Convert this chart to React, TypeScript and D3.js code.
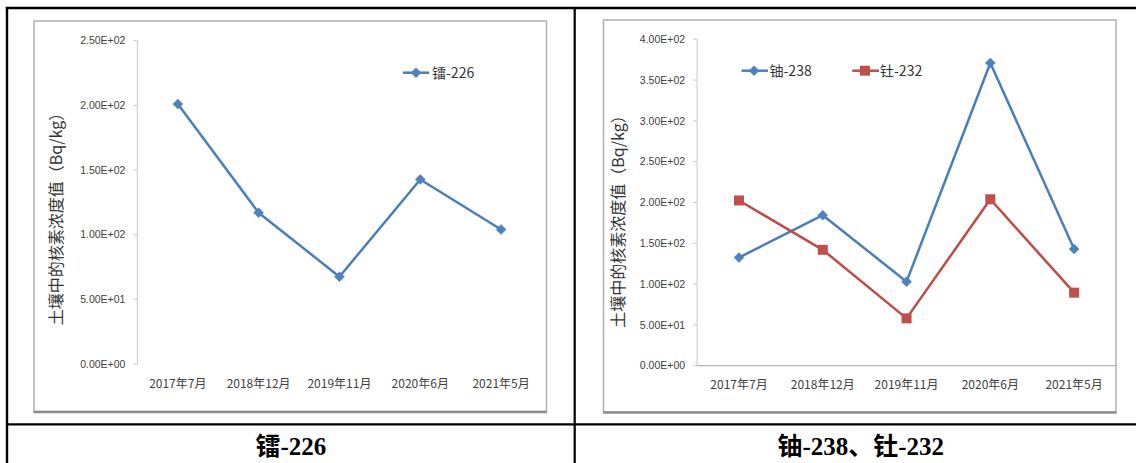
import React from "react";
import * as d3 from "d3";

const categories = ["2017年7月", "2018年12月", "2019年11月", "2020年6月", "2021年5月"];
const ra226 = [201, 117, 67.5, 142.7, 104];
const u238 = [132.5, 184.5, 103, 371, 143];
const th232 = [202.5, 142, 58, 204, 89.5];
const leftTicks = [0, 50, 100, 150, 200, 250];
const rightTicks = [0, 50, 100, 150, 200, 250, 300, 350, 400];
const yTitle = "土壤中的核素浓度值（Bq/kg）";
const leftCaption = "镭-226";
const rightCaption = "铀-238、钍-232";

const BLUE_LINE = "#4A7EBB";
const BLUE_MARK = "#4F81BD";
const RED_LINE = "#BE4B48";
const RED_MARK = "#C0504D";
const TICK_FONT = "'Liberation Sans', Arial, sans-serif";
const CJK_FONT = "'Noto Sans CJK SC', 'Liberation Sans', sans-serif";

function fmtExp(v: number): string {
  const [m, e] = v.toExponential(2).split("e");
  const sign = e[0];
  const digits = e.slice(1).padStart(2, "0");
  return `${m}E${sign}${digits}`;
}

function Diamond({ x, y, color, r = 5 }: { x: number; y: number; color: string; r?: number }) {
  return <path d={`M${x},${y - r}L${x + r},${y}L${x},${y + r}L${x - r},${y}Z`} fill={color} stroke={color} strokeWidth={0.5} />;
}
function Square({ x, y, color, s = 10 }: { x: number; y: number; color: string; s?: number }) {
  return <rect x={x - s / 2} y={y - s / 2} width={s} height={s} fill={color} />;
}

type Series = { name: string; values: number[]; line: string; mark: string; shape: "diamond" | "square" };

function Panel(props: {
  frame: [number, number, number, number];
  axisX: number;
  plotRight: number;
  yTop: number;
  yBottom: number;
  yMax: number;
  ticks: number[];
  series: Series[];
  showXAxis: boolean;
  titleX: number;
  titleY: number;
  catY: number;
  legend: { x0: number; x1: number; mx: number; tx: number; y: number }[];
}) {
  const { frame, axisX, plotRight, yTop, yBottom, yMax, ticks, series } = props;
  const x = d3.scaleBand<string>().domain(categories).range([axisX, plotRight]);
  const y = d3.scaleLinear().domain([0, yMax]).range([yBottom, yTop]);
  const line = d3
    .line<number>()
    .x((_, i) => (x(categories[i]) as number) + x.bandwidth() / 2)
    .y((d) => y(d));
  const [fx0, fy0, fx1, fy1] = frame;
  return (
    <g>
      <rect x={fx0} y={fy0} width={fx1 - fx0} height={fy1 - fy0} fill="#fff" stroke="#b0b0b0" strokeWidth={1.5} />
      <line x1={fx0 - 0.5} x2={fx1 + 0.5} y1={fy1 + 0.5} y2={fy1 + 0.5} stroke="#8c8c8c" strokeWidth={2.5} />
      {/* y axis */}
      <line x1={axisX} x2={axisX} y1={yTop} y2={yBottom} stroke="#c8c8c8" strokeWidth={1} />
      {ticks.map((t) => (
        <g key={t}>
          <line x1={axisX - 4} x2={axisX} y1={y(t)} y2={y(t)} stroke="#c8c8c8" strokeWidth={1} />
          <text
            x={axisX - 12}
            y={y(t)}
            dy="0.35em"
            textAnchor="end"
            fontFamily={TICK_FONT}
            fontSize={10.5}
            fill="#404040"
          >
            {fmtExp(t)}
          </text>
        </g>
      ))}
      {props.showXAxis && (
        <line x1={axisX} x2={plotRight} y1={yBottom} y2={yBottom} stroke="#b8b8b8" strokeWidth={1.2} />
      )}
      {categories.map((c) => (
        <text
          key={c}
          x={(x(c) as number) + x.bandwidth() / 2}
          y={props.catY}
          dy="0.35em"
          textAnchor="middle"
          fontFamily={CJK_FONT}
          fontSize={12}
          fill="#404040"
        >
          {c}
        </text>
      ))}
      <text
        transform={`translate(${props.titleX},${props.titleY}) rotate(-90)`}
        textAnchor="middle"
        dy="0.35em"
        fontFamily={CJK_FONT}
        fontSize={16}
        fill="#333"
      >
        {yTitle}
      </text>
      {series.map((s) => (
        <g key={s.name}>
          <path d={line(s.values) || ""} fill="none" stroke={s.line} strokeWidth={2.5} strokeLinejoin="round" />
          {s.values.map((v, i) => {
            const cx = (x(categories[i]) as number) + x.bandwidth() / 2;
            return s.shape === "diamond" ? (
              <Diamond key={i} x={cx} y={y(v)} color={s.mark} />
            ) : (
              <Square key={i} x={cx} y={y(v)} color={s.mark} />
            );
          })}
        </g>
      ))}
      {series.map((s, i) => {
        const L = props.legend[i];
        return (
          <g key={"lg" + s.name}>
            <line x1={L.x0} x2={L.x1} y1={L.y} y2={L.y} stroke={s.line} strokeWidth={2.5} />
            {s.shape === "diamond" ? (
              <Diamond x={L.mx} y={L.y} color={s.mark} />
            ) : (
              <Square x={L.mx} y={L.y} color={s.mark} />
            )}
            <text x={L.tx} y={L.y} dy="0.35em" fontFamily={CJK_FONT} fontSize={14} fill="#333">
              {s.name}
            </text>
          </g>
        );
      })}
    </g>
  );
}

export default function App() {
  return (
    <svg
      width={1136}
      height={463}
      style={{ position: "absolute", left: 0, top: 0, display: "block", background: "#fff" }}
    >
      {/* table lines */}
      <line x1={5.8} x2={1136} y1={8} y2={8} stroke="#000" strokeWidth={2.6} />
      <line x1={7} x2={7} y1={7} y2={463} stroke="#000" strokeWidth={2.4} />
      <line x1={574.7} x2={574.7} y1={7} y2={463} stroke="#000" strokeWidth={2.2} />
      <line x1={6} x2={1136} y1={424.3} y2={424.3} stroke="#000" strokeWidth={2.2} />

      <Panel
        frame={[34, 21, 546.5, 411.5]}
        axisX={137.4}
        plotRight={541.5}
        yTop={40.7}
        yBottom={364}
        yMax={250}
        ticks={leftTicks}
        series={[{ name: "镭-226", values: ra226, line: BLUE_LINE, mark: BLUE_MARK, shape: "diamond" }]}
        showXAxis={false}
        titleX={56.5}
        titleY={215}
        catY={383.5}
        legend={[{ x0: 403, x1: 429, mx: 416, tx: 432, y: 72.7 }]}
      />
      <Panel
        frame={[603.5, 20, 1116, 412]}
        axisX={697.1}
        plotRight={1116}
        yTop={39.3}
        yBottom={365.7}
        yMax={400}
        ticks={rightTicks}
        series={[
          { name: "铀-238", values: u238, line: BLUE_LINE, mark: BLUE_MARK, shape: "diamond" },
          { name: "钍-232", values: th232, line: RED_LINE, mark: RED_MARK, shape: "square" },
        ]}
        showXAxis={true}
        titleX={618}
        titleY={217.5}
        catY={385}
        legend={[
          { x0: 741.5, x1: 768, mx: 754, tx: 769.5, y: 70.7 },
          { x0: 852.3, x1: 879, mx: 865, tx: 880, y: 70.7 },
        ]}
      />

      <text
        x={290.8}
        y={446.5}
        dy="0.35em"
        textAnchor="middle"
        fontFamily="'Liberation Serif', 'Noto Sans CJK SC', serif"
        fontWeight="bold"
        fontSize={25}
        fill="#000"
      >
        {leftCaption}
      </text>
      <text
        x={860.8}
        y={446.5}
        dy="0.35em"
        textAnchor="middle"
        fontFamily="'Liberation Serif', 'Noto Sans CJK SC', serif"
        fontWeight="bold"
        fontSize={25}
        fill="#000"
      >
        {rightCaption}
      </text>
    </svg>
  );
}
